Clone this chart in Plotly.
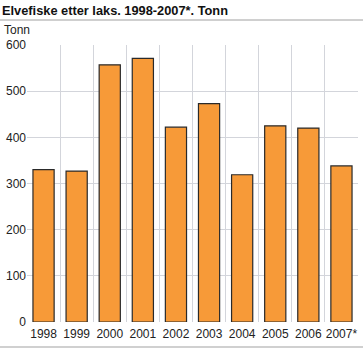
import plotly.graph_objects as go

years = ["1998", "1999", "2000", "2001", "2002", "2003", "2004", "2005", "2006", "2007*"]
tonn = [330, 327, 557, 571, 422, 473, 319, 425, 420, 338]
y_ticks = [0, 100, 200, 300, 400, 500, 600]

W, H = 363, 349
L, R, T, B = 27, 5, 45, 27
PW, PH = W - L - R, H - T - B

xpos = list(range(len(years)))

fig = go.Figure(go.Bar(
    x=xpos, y=tonn,
    marker=dict(color="#F79A38", line=dict(color="#2A2A2A", width=1.2)),
    width=0.64,
))

fig.update_layout(
    width=W, height=H,
    margin=dict(l=L, r=R, t=T, b=B),
    paper_bgcolor="white", plot_bgcolor="white",
    font=dict(family="Liberation Sans, Arial, sans-serif", size=12, color="#222222"),
    showlegend=False,
    xaxis=dict(
        range=[-0.5, len(years) - 0.5],
        tickvals=xpos, ticktext=years,
        showgrid=False, zeroline=False, showline=False,
        ticks="", tickfont=dict(size=12, color="#222222"),
        ticklabelstandoff=3,
        minor=dict(tickvals=[i - 0.5 for i in range(len(years) + 1)],
                   showgrid=True, gridcolor="#D3D5DB", gridwidth=1, ticks=""),
        fixedrange=True,
    ),
    yaxis=dict(
        range=[0, 600],
        tickvals=y_ticks,
        showgrid=True, gridcolor="#D3D5DB", gridwidth=1,
        zeroline=False, showline=False, ticks="",
        tickfont=dict(size=12, color="#222222"),
        fixedrange=True,
    ),
    shapes=[
        dict(type="line", xref="paper", yref="paper", x0=-L / PW, x1=1 + R / PW,
             y0=1 + (T - 20) / PH, y1=1 + (T - 20) / PH,
             line=dict(color="#A0A0A0", width=1)),
        dict(type="line", xref="paper", yref="paper", x0=-L / PW, x1=1 + R / PW,
             y0=-(347 - (H - B)) / PH, y1=-(347 - (H - B)) / PH,
             line=dict(color="#C0C0C0", width=1.5)),
    ],
    annotations=[
        dict(text="<b>Elvefiske etter laks. 1998-2007*. Tonn</b>", xref="paper", yref="paper",
             x=-L / PW, y=1 + (T - 1) / PH, xanchor="left", yanchor="top",
             showarrow=False, font=dict(size=12.8, color="#111111")),
        dict(text="Tonn", xref="paper", yref="paper",
             x=-(L - 3) / PW, y=1 + (T - 22) / PH, xanchor="left", yanchor="top",
             showarrow=False, borderpad=0, font=dict(size=12, color="#222222")),
    ],
)

fig.write_html("out.html")
